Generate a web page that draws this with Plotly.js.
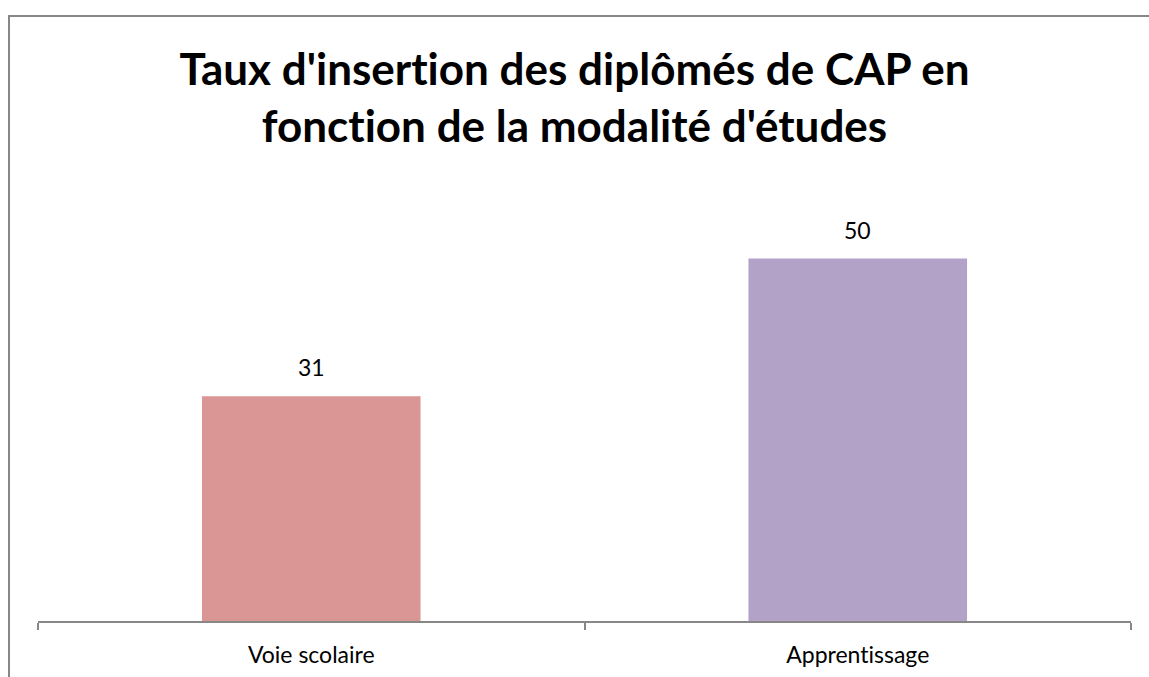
<!DOCTYPE html>
<html><head><meta charset="utf-8">
<script src="https://cdn.plot.ly/plotly-3.0.1.min.js"></script>
<style>
body{margin:0;padding:0;background:#fff;overflow:hidden;}
#chart{position:absolute;left:0;top:0;width:1149px;height:677px;}
#chart text{font-variant-ligatures:none !important;font-feature-settings:"liga" 0,"clig" 0 !important;}
#frame{position:absolute;left:8px;top:15px;width:1200px;height:700px;border-left:2px solid #878787;border-top:2px solid #878787;pointer-events:none;}
</style></head>
<body>
<div id="chart"></div>
<div id="frame"></div>
<script>
const categories = ["Voie scolaire", "Apprentissage"];
const values = [31, 50];
const barColors = ["#D99694", "#B3A2C7"];
const titleText = "Taux d'insertion des diplômés de CAP en<br>fonction de la modalité d'études";
const FONT = "Lato, 'Open Sans', sans-serif";

const trace = {
  type: "bar",
  x: categories,
  y: values,
  marker: {color: barColors},
  width: 0.4,
  hoverinfo: "skip"
};

const annotations = categories.map((c, i) => ({
  x: c, y: values[i], xref: "x", yref: "y",
  text: String(values[i]),
  showarrow: false,
  yanchor: "bottom", yshift: 13,
  font: {family: FONT, size: 23, color: "#000"}
}));

const layout = {
  width: 1149, height: 677,
  margin: {l: 38, r: 18, t: 186, b: 56},
  paper_bgcolor: "#fff", plot_bgcolor: "#fff",
  showlegend: false,
  annotations: annotations,
  title: {
    text: titleText,
    font: {family: FONT, size: 44, color: "#000", weight: "bold"},
    x: 0.5, xanchor: "center",
    y: 1 - 85/677, yanchor: "middle", yref: "container"
  },
  xaxis: {
    type: "category",
    range: [-0.5, 1.5],
    tickson: "boundaries",
    ticks: "outside", ticklen: 7, tickwidth: 2, tickcolor: "#878787",
    ticklabelstandoff: 12,
    showline: true, linecolor: "#878787", linewidth: 2,
    showgrid: false, zeroline: false,
    tickfont: {family: FONT, size: 23, color: "#000"}
  },
  yaxis: {
    range: [0, 60],
    visible: false,
    showgrid: false, zeroline: false
  }
};

Plotly.newPlot("chart", [trace], layout, {displayModeBar: false, staticPlot: true});
</script>
</body></html>
